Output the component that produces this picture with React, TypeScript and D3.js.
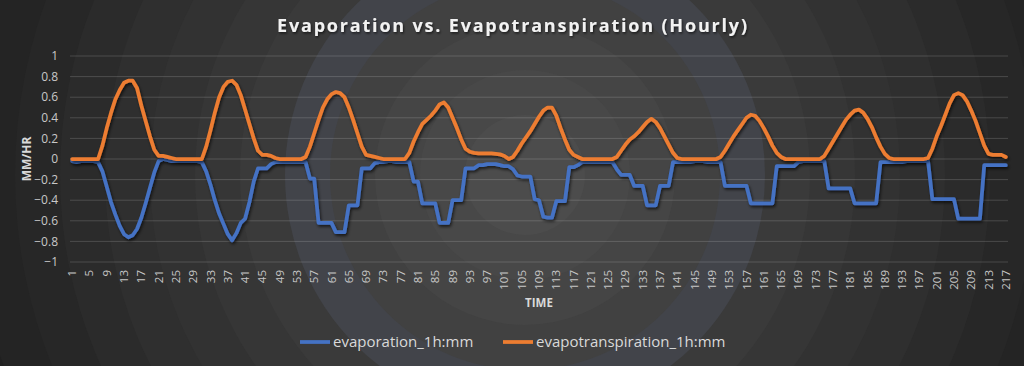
import React from "react";
import * as d3 from "d3";

const categories: number[] = Array.from({ length: 217 }, (_, i) => i + 1);

const evaporation: number[] = [
  -0.02, -0.03, -0.02, -0.02, -0.02, -0.02, -0.03,
  -0.12, -0.27, -0.42, -0.54, -0.65, -0.73, -0.76, -0.74, -0.68, -0.57, -0.43, -0.28, -0.13, -0.02, 0, -0.01, -0.02,
  -0.02, -0.02, -0.02, -0.02, -0.02, -0.02,
  -0.03, -0.12, -0.25, -0.4, -0.53, -0.63, -0.73, -0.79, -0.72, -0.62, -0.58, -0.42, -0.22, -0.09, -0.09, -0.09, -0.05, -0.03,
  -0.03, -0.03, -0.03, -0.03, -0.03, -0.03,
  -0.03, -0.19, -0.19, -0.62, -0.62, -0.62, -0.62, -0.71, -0.71, -0.71, -0.45, -0.45, -0.45, -0.09, -0.09, -0.09, -0.04, -0.03,
  -0.03, -0.02, -0.02, -0.03, -0.03, -0.03,
  -0.03, -0.22, -0.22, -0.43, -0.43, -0.43, -0.43, -0.62, -0.62, -0.62, -0.4, -0.4, -0.4, -0.09, -0.09, -0.09, -0.06, -0.06, -0.05, -0.05, -0.05, -0.06, -0.07, -0.07,
  -0.1, -0.16, -0.17, -0.17, -0.17, -0.39, -0.4, -0.56, -0.57, -0.57, -0.41, -0.41, -0.41, -0.08, -0.08, -0.06,
  -0.03, -0.03, -0.03, -0.03, -0.03, -0.03, -0.03, -0.03,
  -0.1, -0.155, -0.155, -0.155, -0.26, -0.26, -0.26, -0.45, -0.45, -0.45, -0.26, -0.26, -0.26, -0.03, -0.03,
  -0.03, -0.03, -0.03, -0.02, -0.02, -0.02, -0.03, -0.03, -0.03,
  -0.03, -0.26, -0.26, -0.26, -0.26, -0.26, -0.26, -0.43, -0.43, -0.43, -0.43, -0.43, -0.43, -0.07, -0.07,
  -0.07, -0.07, -0.07, -0.03, -0.02, -0.02, -0.02, -0.02, -0.02,
  -0.02, -0.285, -0.285, -0.285, -0.285, -0.285, -0.285, -0.43, -0.43, -0.43, -0.43, -0.43, -0.43, -0.03, -0.03, -0.03,
  -0.03, -0.03, -0.03, -0.02, -0.02, -0.02, -0.02, -0.02,
  -0.02, -0.39, -0.39, -0.39, -0.39, -0.39, -0.39, -0.58, -0.58, -0.58, -0.58, -0.58, -0.58, -0.06, -0.06, -0.06, -0.06, -0.06, -0.06,
];

const evapotranspiration: number[] = [
  0, 0, 0, 0, 0, 0, 0,
  0.13, 0.3, 0.45, 0.58, 0.67, 0.74, 0.76, 0.76, 0.69, 0.52, 0.37, 0.22, 0.09, 0.03, 0.03, 0.02, 0.01,
  0, 0, 0, 0, 0, 0,
  0, 0.12, 0.28, 0.45, 0.6, 0.7, 0.75, 0.76, 0.72, 0.62, 0.48, 0.34, 0.2, 0.08, 0.04, 0.04, 0.03, 0.01,
  0, 0, 0, 0, 0, 0,
  0.02, 0.12, 0.25, 0.38, 0.5, 0.58, 0.63, 0.65, 0.64, 0.6, 0.5, 0.38, 0.25, 0.12, 0.04, 0.03, 0.02, 0.01,
  0, 0, 0, 0, 0, 0,
  0.06, 0.17, 0.26, 0.34, 0.38, 0.42, 0.47, 0.53, 0.55, 0.5, 0.4, 0.3, 0.19, 0.1, 0.07, 0.06, 0.055, 0.055, 0.055, 0.055, 0.05, 0.045, 0.03, 0,
  0.02, 0.08, 0.15, 0.21, 0.27, 0.34, 0.41, 0.47, 0.5, 0.5, 0.42, 0.3, 0.19, 0.09, 0.04, 0.02,
  0, 0, 0, 0, 0, 0, 0, 0,
  0.02, 0.08, 0.14, 0.19, 0.22, 0.26, 0.31, 0.36, 0.39, 0.36, 0.3, 0.22, 0.14, 0.06, 0.01,
  0, 0, 0, 0, 0, 0, 0, 0, 0,
  0.02, 0.08, 0.15, 0.22, 0.28, 0.34, 0.4, 0.43, 0.42, 0.37, 0.3, 0.22, 0.13, 0.06, 0.02,
  0, 0, 0, 0, 0, 0, 0, 0, 0,
  0.03, 0.1, 0.17, 0.24, 0.31, 0.38, 0.43, 0.47, 0.48, 0.45, 0.39, 0.31, 0.21, 0.12, 0.05, 0.01,
  0, 0, 0, 0, 0, 0, 0, 0,
  0.01, 0.1, 0.22, 0.32, 0.43, 0.54, 0.62, 0.64, 0.62, 0.56, 0.47, 0.37, 0.25, 0.13, 0.05, 0.04, 0.04, 0.04, 0.02,
];

const yTicks: number[] = [1, 0.8, 0.6, 0.4, 0.2, 0, -0.2, -0.4, -0.6, -0.8, -1];
const xTickLabels: number[] = categories.filter((c) => (c - 1) % 4 === 0);

const seriesNames = ["evaporation_1h:mm", "evapotranspiration_1h:mm"];
const seriesColors = ["#4472C4", "#ED7D31"];

const W = 1024;
const H = 366;
const PL = 70;
const PR = 1008;
const PT = 56;
const PB = 262;

export default function App() {
  const x = d3.scaleBand<number>().domain(categories).range([PL, PR]).padding(0);
  const cx = (c: number) => (x(c) as number) + x.bandwidth() / 2;
  const y = d3.scaleLinear().domain([-1, 1]).range([PB, PT]);

  const line = d3
    .line<number>()
    .x((_, i) => cx(categories[i]))
    .y((d) => y(d));

  const rings = d3.range(0, 13);
  const ringColor = d3.scaleLinear<string>().domain([0, 12]).range(["#202020", "#4c4c4c"]);
  const ringCx = 525;
  const ringCy = 175;

  const fontFamily = "'Open Sans', 'Noto Sans', sans-serif";

  return (
    <div style={{ position: "fixed", left: 0, top: 0 }}>
      <svg width={W} height={H} style={{ display: "block" }}>
        <defs>
          <filter id="shadow" x="-5%" y="-5%" width="110%" height="120%">
            <feDropShadow dx="1.2" dy="2" stdDeviation="1.4" floodColor="#000" floodOpacity="0.65" />
          </filter>
          <filter id="tshadow" x="-5%" y="-20%" width="110%" height="150%">
            <feDropShadow dx="1" dy="1.5" stdDeviation="1" floodColor="#000" floodOpacity="0.6" />
          </filter>
          <clipPath id="bgclip">
            <rect x={0} y={0} width={W} height={H} />
          </clipPath>
        </defs>
        <rect x={0} y={0} width={W} height={H} fill="#1e1e1e" />
        <g clipPath="url(#bgclip)">
          {rings.map((r) => (
            <circle
              key={r}
              cx={ringCx}
              cy={ringCy}
              r={600 - r * 45}
              fill={r === 8 ? "#42444a" : ringColor(r)}
            />
          ))}
        </g>

        {/* title */}
        <text
          x={512}
          y={32}
          textAnchor="middle"
          fill="#f2f2f2"
          fontFamily={fontFamily}
          fontWeight="bold"
          fontSize={18}
          textLength={470}
          lengthAdjust="spacing"
          filter="url(#tshadow)"
        >
          Evaporation vs. Evapotranspiration (Hourly)
        </text>

        {/* gridlines */}
        {yTicks.map((t) => (
          <line
            key={"g" + t}
            x1={PL}
            x2={PR}
            y1={y(t)}
            y2={y(t)}
            stroke="#ffffff"
            strokeOpacity={0.16}
            strokeWidth={1}
          />
        ))}

        {/* y tick labels */}
        {yTicks.map((t) => (
          <text
            key={"yl" + t}
            x={58}
            y={y(t)}
            dy="0.35em"
            textAnchor="end"
            fill="#c8c8c8"
            fontFamily={fontFamily}
            fontSize={12}
          >
            {d3.format("~g")(t)}
          </text>
        ))}

        {/* y axis title */}
        <text
          transform={`translate(31,${(PT + PB) / 2}) rotate(-90)`}
          textAnchor="middle"
          fill="#d9d9d9"
          fontFamily={fontFamily}
          fontWeight="bold"
          fontSize={12}
        >
          MM/HR
        </text>

        {/* zero axis line */}
        <line x1={PL} x2={PR} y1={y(0)} y2={y(0)} stroke="#ffffff" strokeWidth={3} filter="url(#shadow)" />

        {/* x tick labels */}
        {xTickLabels.map((c) => (
          <text
            key={"xl" + c}
            transform={`translate(${cx(c)},270) rotate(-90)`}
            textAnchor="end"
            dy="0.35em"
            fill="#c8c8c8"
            fontFamily={fontFamily}
            fontSize={11.5}
          >
            {c}
          </text>
        ))}

        {/* x axis title */}
        <text
          x={(PL + PR) / 2}
          y={307}
          textAnchor="middle"
          fill="#d9d9d9"
          fontFamily={fontFamily}
          fontWeight="bold"
          fontSize={11.5}
        >
          TIME
        </text>

        {/* series */}
        <path
          d={line(evaporation) || ""}
          fill="none"
          stroke={seriesColors[0]}
          strokeWidth={3.75}
          strokeLinejoin="round"
          strokeLinecap="round"
          filter="url(#shadow)"
        />
        <path
          d={line(evapotranspiration) || ""}
          fill="none"
          stroke={seriesColors[1]}
          strokeWidth={3.75}
          strokeLinejoin="round"
          strokeLinecap="round"
          filter="url(#shadow)"
        />

        {/* legend */}
        {[0, 1].map((k) => {
          const lx = k === 0 ? 300 : 503;
          return (
            <g key={"lg" + k}>
              <line x1={lx} x2={lx + 30} y1={342} y2={342} stroke={seriesColors[k]} strokeWidth={3.75} />
              <text
                x={lx + 33}
                y={347}
                fill="#d9d9d9"
                fontFamily={fontFamily}
                fontSize={15}
              >
                {seriesNames[k]}
              </text>
            </g>
          );
        })}
      </svg>
    </div>
  );
}
